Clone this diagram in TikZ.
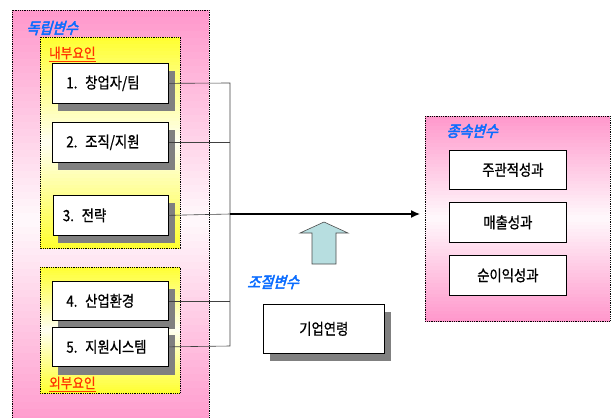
\documentclass[tikz,border=0pt]{standalone}
\usepackage{fontspec}
\usetikzlibrary{arrows.meta}
\setmainfont{Noto Sans CJK KR}[FakeStretch=0.86,FakeBold=0.8]
\newfontfamily\krit[FakeSlant=0.3,FakeBold=3,FakeStretch=0.9]{Noto Sans CJK KR}
\newfontfamily\krlab[FakeStretch=0.9,FakeBold=0.8]{Noto Sans CJK KR}
\definecolor{pk}{HTML}{FF99CC}
\definecolor{ye}{HTML}{FFFF33}
\definecolor{cy}{HTML}{B7DEE0}
\definecolor{lblue}{HTML}{0A6CFF}
\definecolor{lred}{HTML}{FF3300}
% vertical gradient: x1 y1 x2 y2 colour
\newcommand\myvgrad[5]{%
  \pgfmathsetmacro\gh{(#4-#2)/60}%
  \foreach \i in {0,...,59}{%
    \pgfmathsetmacro\gt{\i/59}%
    \pgfmathsetmacro\gp{6+94*abs(2*\gt-1)}%
    \pgfmathsetmacro\gya{#2+\gh*\i}%
    \pgfmathsetmacro\gyb{#2+\gh*(\i+1)+0.6}%
    \fill[#5!\gp!white] (#1,\gya) rectangle (#3,\gyb);
  }}
\begin{document}
\begin{tikzpicture}[x=1pt,y=-1pt,
  box/.style={draw=black,line width=0.7pt,fill=white,minimum width=116pt,minimum height=40pt,inner sep=0pt,font=\fontsize{15.5}{17}\selectfont},
  varlabel/.style={text=lblue,font=\krit\fontsize{15.5}{16}\selectfont,inner sep=0pt,anchor=west},
  factlabel/.style={text=lred,font=\krlab\fontsize{14}{15}\selectfont,inner sep=0pt,anchor=west},
  conn/.style={draw=black!75,line width=0.6pt},
  frame/.style={densely dotted,line width=0.8pt}]
\useasboundingbox (0,0) rectangle (612,417);
\clip (0,0) rectangle (612,417);
% left pink
\myvgrad{12}{10}{209}{430}{pk}
\draw[frame] (12,425) -- (12,10) -- (209,10) -- (209,425);
\node[varlabel] (indep) at (26,28) {독립변수};
% yellow boxes
\myvgrad{40}{37}{180}{248}{ye}
\draw[frame] (40,37) rectangle (180,248);
\myvgrad{40}{267}{180}{393}{ye}
\draw[frame] (40,267) rectangle (180,393);
\node[factlabel] (inner) at (49,54) {\underline{내부요인}};
\node[factlabel] (outer) at (49,384) {\underline{외부요인}};
% shadows
\foreach \y in {63,122,195,281,327} \fill[black!50] (58,\y+8) rectangle (175,\y+48);
\fill[black!50] (270,312) rectangle (391,361);
\foreach \y in {150,202,255} \fill[black!50] (455,\y+8) rectangle (572,\y+47);
% left boxes
\node[box,anchor=north west,text width=88pt,align=left] (b1) at (52,63) {1. 창업자/팀};
\node[box,anchor=north west,text width=88pt,align=left] (b2) at (52,122) {2. 조직/지원};
\node[box,anchor=north west,text width=96pt,align=left,minimum width=115pt] (b3) at (53,195) {3. 전략};
\node[box,anchor=north west,text width=88pt,align=left,minimum height=39pt] (b4) at (52,281) {4. 산업환경};
\node[box,anchor=north west,text width=88pt,align=left,minimum height=39pt] (b5) at (52,327) {5. 지원시스템};
% junction
\coordinate (j1) at (230,83);
\coordinate (j3) at (230,214);
\coordinate (j5) at (230,346);
\draw[conn] (b1.east) -- (j1) -- (j5) -- (b5.east);
\draw[conn] (b2.east) -- (b2.east -| j1);
\draw[conn] (b3.east) -- (j3);
\draw[conn] (b4.east) -- (b4.east -| j1);
% right pink
\myvgrad{425}{116}{610}{321}{pk}
\draw[frame] (425,116) rectangle (610,321);
\node[varlabel] (dep) at (446,131) {종속변수};
\node[box,anchor=north west,minimum height=39pt,minimum width=117pt] (r1) at (449,150) {\hspace*{10pt}주관적성과};
\node[box,anchor=north west,minimum height=40pt,minimum width=117pt] (r2) at (449,202) {매출성과};
\node[box,anchor=north west,minimum height=40pt,minimum width=117pt] (r3) at (449,255) {순이익성과};
% main arrow
\draw[line width=1.3pt,-{Latex[length=9pt,width=8pt]}] (j3) -- (420,214) coordinate (tipend);
% moderator
\node[varlabel] (mod) at (247,282) {조절변수};
\node[box,anchor=north west,minimum width=121pt,minimum height=49pt] (age) at (263,304) {기업연령};
\draw[draw=black!70,line width=0.6pt,fill=cy] (312,264) -- (312,233) -- (300,233) -- (324,222) -- (348,233) -- (336,233) -- (336,264) -- cycle;
\end{tikzpicture}
\end{document}
